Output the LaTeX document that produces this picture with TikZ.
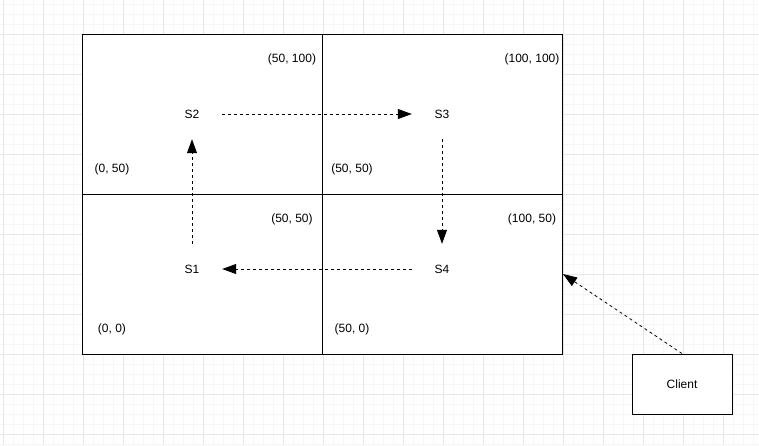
\documentclass[tikz,border=0pt]{standalone}
\usepackage{fontspec}
\setmainfont{Liberation Sans}
\usetikzlibrary{arrows.meta}
\definecolor{gridminor}{HTML}{F6F6F6}
\definecolor{gridmajor}{HTML}{E6E6E6}
\begin{document}
\begin{tikzpicture}[x=1pt,y=-1pt,
  server/.style={minimum width=60pt,minimum height=50pt,inner sep=0pt,font=\fontsize{12}{14}\selectfont},
  coord/.style={inner sep=0pt,font=\fontsize{12}{14}\selectfont},
  flow/.style={line width=0.8pt,dash pattern=on 3pt off 3pt,-{Triangle[length=14pt,width=10pt]}},
  region/.style={draw=black,line width=1pt},
  clientbox/.style={draw=black,line width=1pt,minimum width=100pt,minimum height=60pt,inner sep=0pt,font=\fontsize{12}{14}\selectfont}]
\useasboundingbox (0,0) rectangle (759,445);
\fill[white] (0,0) rectangle (759,445);
% grid
\foreach \x in {3,13,...,753} \draw[gridminor,line width=1pt] (\x,0) -- (\x,445);
\foreach \y in {4,14,...,444} \draw[gridminor,line width=1pt] (0,\y) -- (759,\y);
\foreach \x in {3,43,...,723} \draw[gridmajor,line width=1pt] (\x,0) -- (\x,445);
\foreach \y in {34,74,...,434} \draw[gridmajor,line width=1pt] (0,\y) -- (759,\y);
% regions
\fill[white] (82,34) rectangle (562,354);
\draw[region] (82,34) rectangle (322,194);
\draw[region] (322,34) rectangle (562,194);
\draw[region] (82,194) rectangle (322,354);
\draw[region] (322,194) rectangle (562,354);
% coordinate labels
\node[coord] (l1) at (292,59) {(50, 100)};
\node[coord] (l2) at (532,59) {(100, 100)};
\node[coord] (l3) at (112,169) {(0, 50)};
\node[coord] (l4) at (352,169) {(50, 50)};
\node[coord] (l5) at (292,219) {(50, 50)};
\node[coord] (l6) at (532,219) {(100, 50)};
\node[coord] (l7) at (112,329) {(0, 0)};
\node[coord] (l8) at (352,329) {(50, 0)};
% servers
\node[server] (s2) at (192,114) {S2};
\node[server] (s3) at (442,114) {S3};
\node[server] (s1) at (192,269) {S1};
\node[server] (s4) at (442,269) {S4};
\draw[flow] (s2) -- (s3);
\draw[flow] (s3) -- (s4);
\draw[flow] (s4) -- (s1);
\draw[flow] (s1) -- (s2);
% client
\node[clientbox,fill=white] (client) at (682,384) {Client};
\coordinate (entry) at (563,274);
\draw[flow] (client.north) -- (entry);
\end{tikzpicture}
\end{document}
